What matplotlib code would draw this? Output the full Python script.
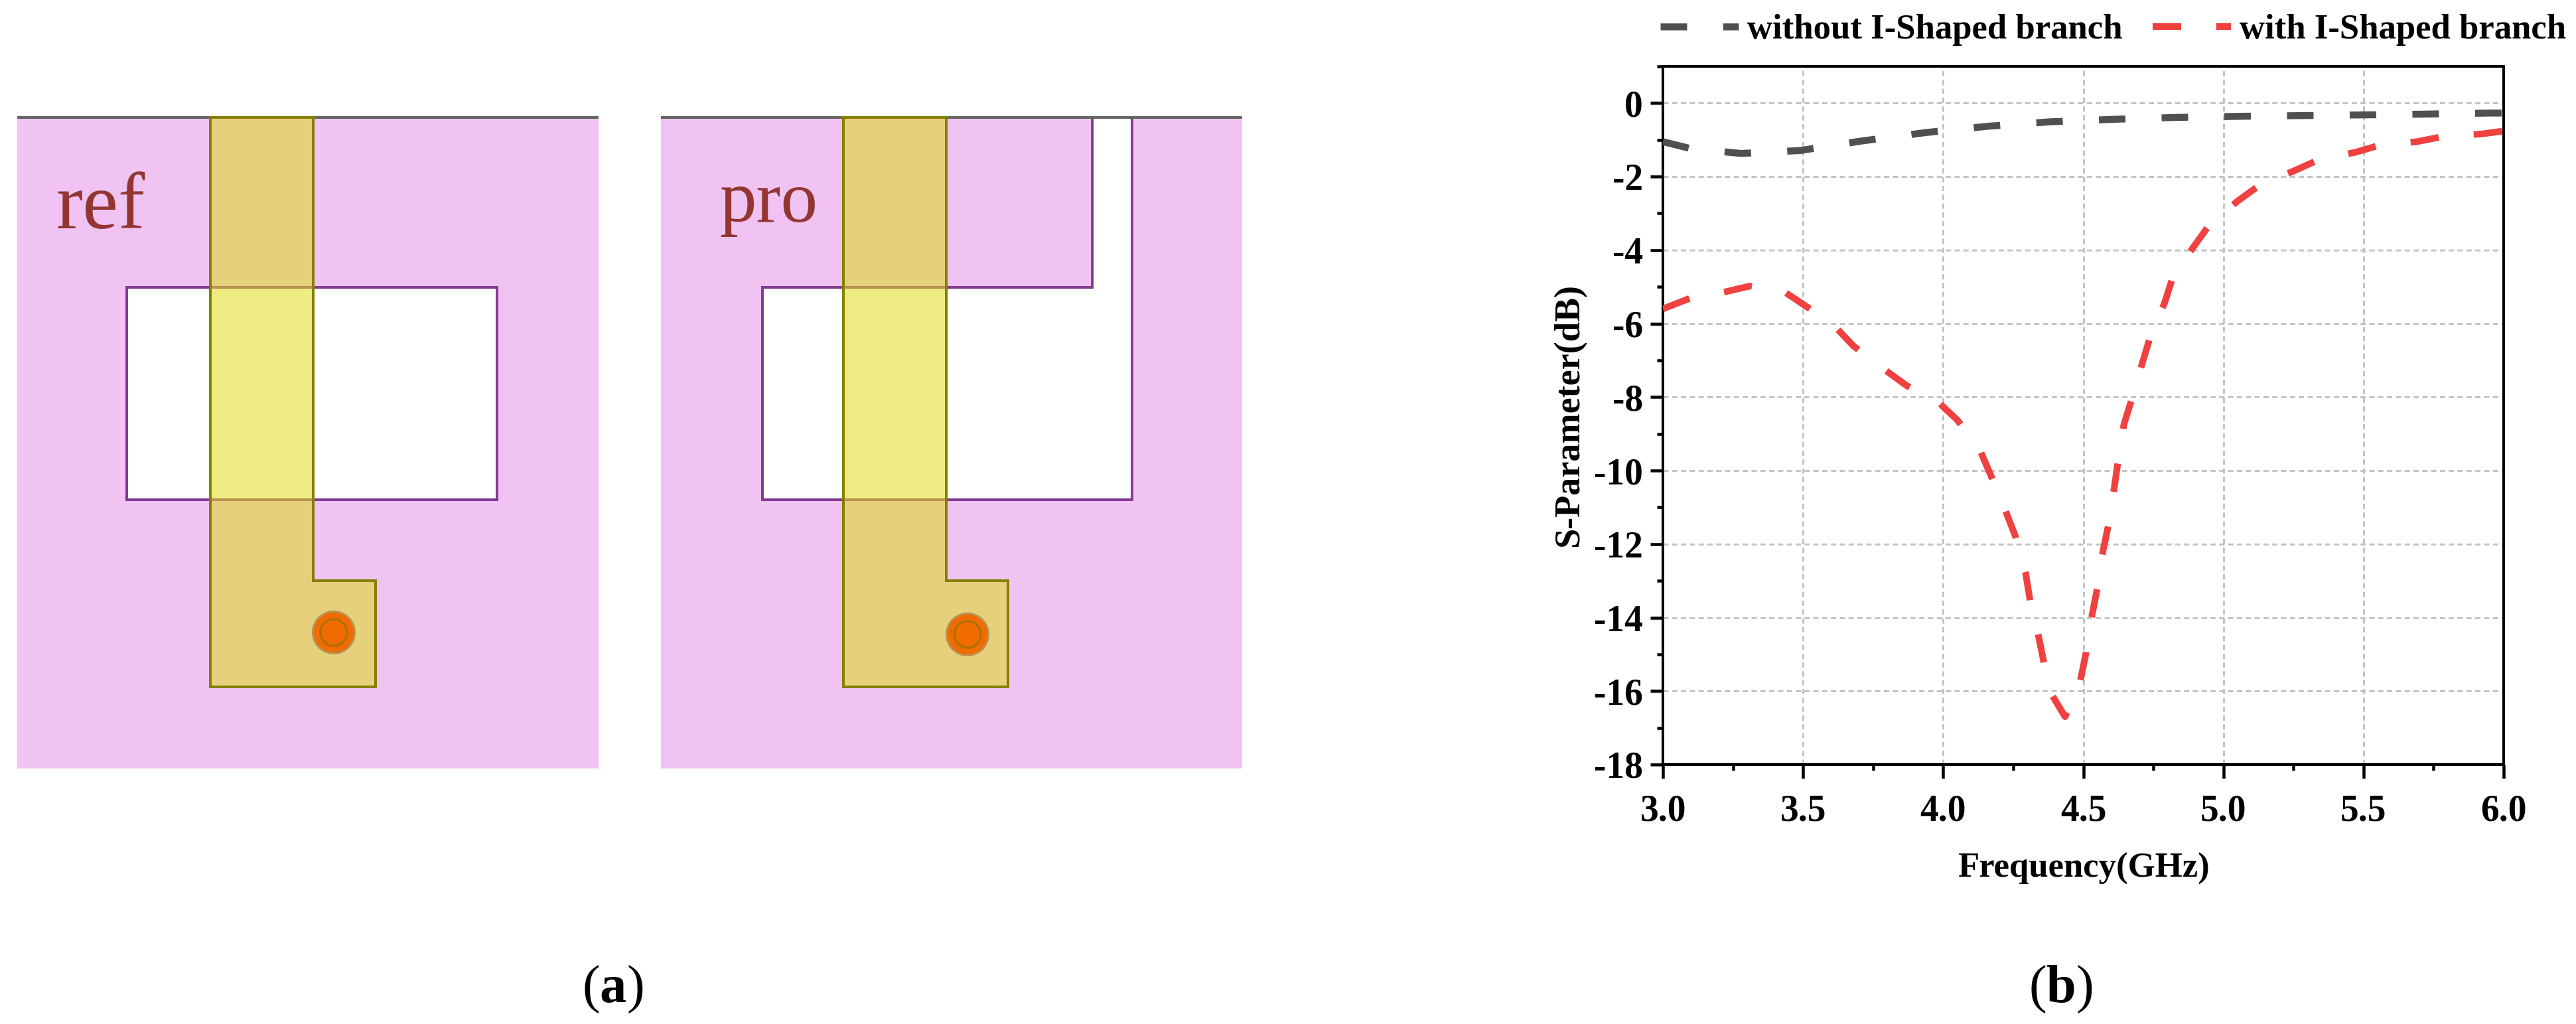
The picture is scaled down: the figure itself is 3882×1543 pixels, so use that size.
import numpy as np
import matplotlib
matplotlib.use('Agg')
from matplotlib import pyplot as plt
from matplotlib.patches import Rectangle, Polygon, Circle

plt.rcParams['font.family'] = ['Liberation Serif', 'DejaVu Serif']
plt.rcParams['mathtext.fontset'] = 'custom'
plt.rcParams['mathtext.rm'] = 'Liberation Serif'
plt.rcParams['mathtext.bf'] = 'Liberation Serif:bold'
plt.rcParams['lines.scale_dashes'] = False

W, H = 3882, 1543
PX = 72 / 100  # points per pixel at dpi 100

# S-parameter curves
freq_gray = [3.0, 3.1, 3.28, 3.49, 3.71, 3.94, 4.16, 4.38, 4.61, 4.83, 5.05, 5.28, 5.5, 5.72, 5.95, 6.0]
s_gray = [-1.05, -1.24, -1.37, -1.29, -1.03, -0.80, -0.63, -0.51, -0.44, -0.39, -0.36, -0.34, -0.32, -0.30, -0.27, -0.27]
freq_red = [3.0, 3.1, 3.22, 3.31, 3.43, 3.515, 3.61, 3.68, 3.79, 3.87, 3.98, 4.05, 4.13, 4.17, 4.22, 4.26,
            4.294, 4.31, 4.34, 4.36, 4.39, 4.435, 4.49, 4.51, 4.53, 4.55, 4.57, 4.59, 4.61, 4.625, 4.645, 4.675, 4.71,
            4.74, 4.79, 4.82, 4.89, 4.95, 5.05, 5.135, 5.25, 5.34, 5.47, 5.56, 5.69, 5.79, 5.92, 6.0]
s_red = [-5.6, -5.3, -5.14, -4.98, -5.12, -5.55, -6.05, -6.61, -7.25, -7.69, -8.12, -8.62, -9.42, -10.13, -11.05, -11.83,
         -12.78, -13.54, -14.5, -15.25, -16.13, -16.7, -15.7, -14.95, -13.98, -13.2, -12.2, -11.47, -10.49, -9.7, -8.74, -8.01, -7.09,
         -6.33, -5.44, -4.72, -3.95, -3.31, -2.67, -2.2, -1.85, -1.54, -1.34, -1.14, -1.05, -0.9, -0.84, -0.76]
x_ticks = [3.0, 3.5, 4.0, 4.5, 5.0, 5.5, 6.0]
x_tick_labels = ['3.0', '3.5', '4.0', '4.5', '5.0', '5.5', '6.0']
y_ticks = [0, -2, -4, -6, -8, -10, -12, -14, -16, -18]
y_tick_labels = ['0', '-2', '-4', '-6', '-8', '-10', '-12', '-14', '-16', '-18']

# antenna layouts, in picture pixels
ref_board = [26, 177, 902, 1158]
ref_slot = [(191, 433), (749, 433), (749, 753), (191, 753)]
ref_feed = [(317, 177), (472, 177), (472, 875), (566, 875), (566, 1035), (317, 1035)]
ref_via = (503, 953)
pro_board = [996, 177, 1872, 1158]
pro_slot = [(1149, 433), (1646, 433), (1646, 177), (1706, 177), (1706, 753), (1149, 753)]
pro_feed = [(1271, 177), (1426, 177), (1426, 875), (1519, 875), (1519, 1035), (1271, 1035)]
pro_via = (1458, 956)

fig = plt.figure(figsize=(W / 100, H / 100), dpi=100, facecolor='white')

# left part: the two layouts
axl = fig.add_axes([0, 0, 1, 1])
axl.set_xlim(0, W)
axl.set_ylim(H, 0)
axl.axis('off')


def draw_layout(board, slot, feed, via):
    x0, y0, x1, y1 = board
    axl.add_patch(Rectangle((x0, y0), x1 - x0, y1 - y0, fc='#f0c3f2', ec='none', zorder=1))
    axl.add_patch(Polygon(slot, closed=True, fc='white', ec='#853a92', lw=4 * PX, zorder=2))
    axl.plot([x0, x1], [y0, y0], color='#666666', lw=4 * PX, zorder=3, solid_capstyle='butt')
    # feed is see-through: darker over the board than over the slot
    axl.add_patch(Polygon(feed, closed=True, fc='#e0dc1c', alpha=0.55, ec='none', zorder=4))
    axl.add_patch(Polygon(feed, closed=True, fc='none', ec='#858000', lw=4 * PX, zorder=5))
    axl.add_patch(Circle(via, 33, fc='#b8904f', ec='none', zorder=6))
    axl.add_patch(Circle(via, 30, fc='#f06c00', ec='none', zorder=7))
    axl.add_patch(Circle(via, 20, fc='none', ec='#b07000', lw=3.5 * PX, zorder=8))


draw_layout(ref_board, ref_slot, ref_feed, ref_via)
draw_layout(pro_board, pro_slot, pro_feed, pro_via)
axl.text(85, 344, 'ref', fontsize=87, color='#933632', zorder=9)
axl.text(1084, 334, 'pro', fontsize=80, color='#933632', zorder=9)
axl.text(923, 1510, r'($\mathbf{a}$)', fontsize=58, ha='center')
axl.text(3105, 1510, r'($\mathbf{b}$)', fontsize=58, ha='center')

# right part: the S-parameter chart
left, right, top, bottom = 2506, 3773, 100, 1152
ax = fig.add_axes([left / W, 1 - bottom / H, (right - left) / W, (bottom - top) / H])
l1, = ax.plot(freq_gray, s_gray, color='#505050', lw=10.5 * PX, linestyle=(0, (40 * PX, 54.5 * PX)),
              dash_capstyle='butt', label='without I-Shaped branch', zorder=3)
l2, = ax.plot(freq_red, s_red, color='#f04040', lw=10 * PX, linestyle=(0, (43 * PX, 53 * PX)),
              dash_capstyle='butt', label='with I-Shaped branch', zorder=3)
ax.set_xlim(3, 6)
ax.set_ylim(-18, 1)
ax.set_xticks(x_ticks)
ax.set_xticklabels(x_tick_labels)
ax.set_xticks([3.25, 3.75, 4.25, 4.75, 5.25, 5.75], minor=True)
ax.set_yticks(y_ticks)
ax.set_yticklabels(y_tick_labels)
ax.set_yticks([1, -1, -3, -5, -7, -9, -11, -13, -15, -17], minor=True)
for lab in ax.get_xticklabels() + ax.get_yticklabels():
    lab.set_fontweight('bold')
ax.tick_params(axis='x', which='major', length=21 * PX, width=4.5 * PX, labelsize=40, pad=17)
ax.tick_params(axis='y', which='major', length=19 * PX, width=4.5 * PX, labelsize=40, pad=8)
ax.tick_params(axis='both', which='minor', length=9 * PX, width=4.5 * PX)
for s in ax.spines.values():
    s.set_linewidth(4 * PX)
ax.grid(True, which='major', color='#c0c0c0', lw=2.8 * PX, linestyle=(0, (8 * PX, 5.3 * PX)), zorder=1)
ax.set_axisbelow(True)
ax.set_xlabel('Frequency(GHz)', fontsize=38, fontweight='bold', labelpad=26)
ax.set_ylabel('S-Parameter(dB)', fontsize=39, fontweight='bold', labelpad=8)
fig.legend(handles=[l1, l2], loc='center left', bbox_to_anchor=(2502 / W, 1 - 45 / H), ncol=2, frameon=False,
           prop={'family': 'Liberation Serif', 'weight': 'bold', 'size': 38}, handlelength=2.24,
           handletextpad=0.25, columnspacing=0.85, borderpad=0, borderaxespad=0)

fig.savefig('out.png', dpi=100)
